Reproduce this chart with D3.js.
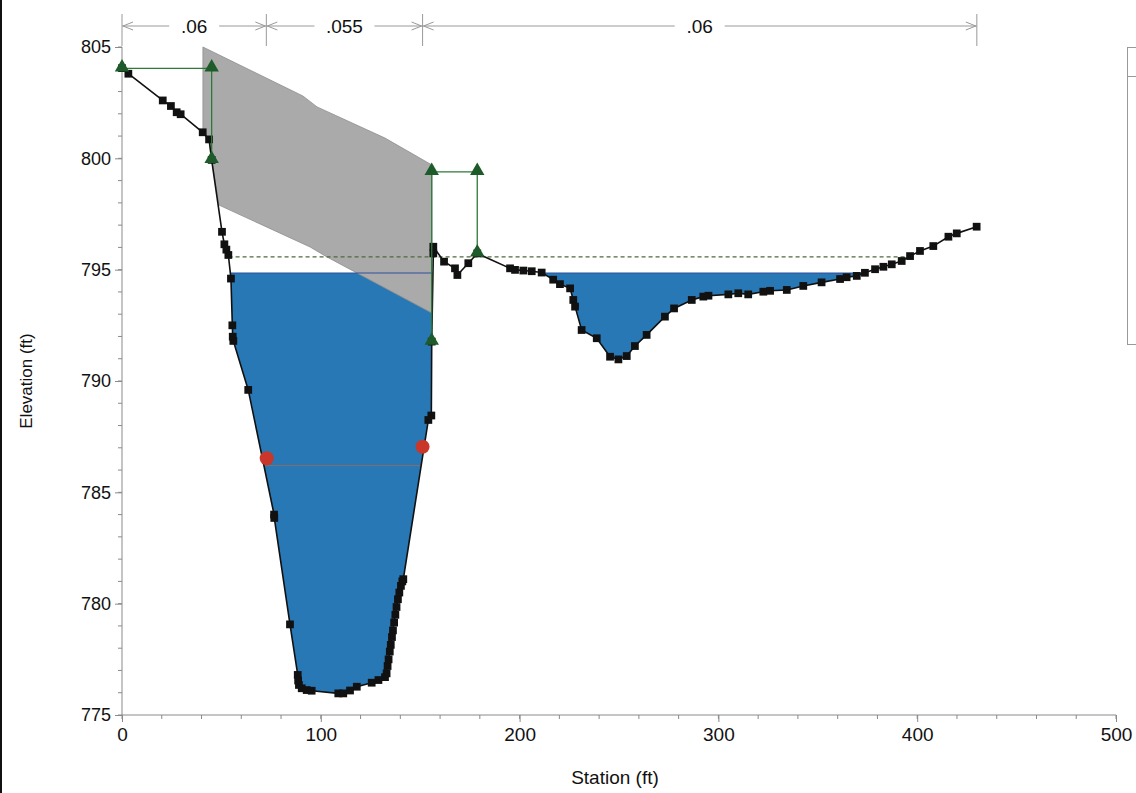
<!DOCTYPE html>
<html>
<head>
<meta charset="utf-8">
<script src="https://cdn.jsdelivr.net/npm/d3@7/dist/d3.min.js"></script>
<style>
  html, body { margin: 0; padding: 0; background: #fff; }
  svg { display: block; font-family: "Liberation Sans", Arial, sans-serif; }
</style>
</head>
<body>
<svg id="chart" width="1136" height="793"></svg>
<script>
// ---------------- DATA ----------------
// ground profile [station ft, elevation ft]
const ground = [
  [0, 804.05], [3.2, 803.8], [20.5, 802.6], [24.6, 802.35], [27.5, 802.07], [29.5, 801.98],
  [40.6, 801.17], [43.8, 800.85], [45.1, 799.93], [50.3, 796.7], [51.5, 796.14], [52.5, 795.9],
  [53.5, 795.66], [54.8, 794.6], [55.5, 792.5], [55.7, 791.99], [56.0, 791.8], [63.5, 789.6],
  [76.5, 784.0], [76.6, 783.85], [84.5, 779.07], [88.4, 776.8], [88.6, 776.55], [89.0, 776.35],
  [90.4, 776.2], [92.9, 776.12], [95.4, 776.09], [108.8, 775.97], [111.3, 775.97], [114.7, 776.1],
  [118.1, 776.27], [125.6, 776.45], [129.0, 776.57], [132.3, 776.7], [133.1, 776.87], [133.6, 777.2],
  [134.1, 777.5], [134.7, 777.85], [135.2, 778.15], [135.8, 778.5], [136.3, 778.8], [136.9, 779.15],
  [137.5, 779.5], [138.1, 779.85], [138.8, 780.2], [139.5, 780.5], [140.3, 780.8], [141.0, 781.0],
  [141.5, 781.1], [154.1, 788.25], [155.6, 788.45], [155.8, 791.77], [156.6, 795.73], [156.6, 796.03],
  [162.0, 795.36], [167.5, 795.06], [168.7, 794.76], [174.2, 795.29], [178.7, 795.73], [195.2, 795.06],
  [197.7, 794.99], [201.9, 794.96], [206.1, 794.93], [211.1, 794.87], [216.9, 794.55], [220.3, 794.35],
  [225.4, 794.16], [227.0, 793.64], [227.9, 793.34], [231.2, 792.29], [238.8, 791.92], [245.5, 791.09],
  [249.7, 790.97], [253.9, 791.12], [258.0, 791.57], [263.9, 792.07], [273.1, 792.89], [277.7, 793.26],
  [286.6, 793.64], [292.4, 793.79], [295.0, 793.83], [305.0, 793.89], [310.0, 793.94], [315.0, 793.89],
  [322.6, 794.01], [326.0, 794.05], [334.4, 794.09], [342.7, 794.27], [351.9, 794.43], [361.2, 794.58],
  [364.5, 794.66], [369.6, 794.72], [373.7, 794.86], [378.8, 795.02], [383.0, 795.13], [387.2, 795.24],
  [392.2, 795.39], [396.4, 795.61], [401.4, 795.84], [408.1, 796.06], [415.7, 796.48], [419.9, 796.63],
  [429.9, 796.93]
];
// bridge deck: high chord (left to right) then low chord (right to left, ending on ground)
const highChord = [[40.7, 805.0], [91.0, 802.8], [98.1, 802.31], [132.3, 800.91], [155.9, 799.7]];
const lowChord = [[155.9, 793.05], [103.1, 795.57], [94.6, 796.02], [48.8, 797.9], [45.1, 799.93], [43.8, 800.85], [40.7, 801.17]];
// water surface and energy grade
const waterSurface = 794.85;
const fillRanges = [[50, 160], [200, 380]];
const energyGrade = 795.57;
// ineffective flow / levee markers (green)
const leftMarker = [[0, 804.04], [45.1, 804.04], [45.1, 799.93]];
const rightMarker = [[155.8, 791.77], [155.8, 799.39], [178.7, 799.39], [178.7, 795.73]];
// bank stations (red dots) and level line between them
const bankPoints = [[72.8, 786.53], [151.2, 787.05]];
const bankLevel = 786.2;
// Manning's n
const nBreaks = [0, 72.6, 151.2, 430.0];
const nLabels = [".06", ".055", ".06"];
// axes
const xTicks = [0, 100, 200, 300, 400, 500];
const yTicks = [775, 780, 785, 790, 795, 800, 805];

// ---------------- SCALES ----------------
const svg = d3.select("#chart");
const x = d3.scaleLinear().domain([0, 500]).range([122, 1116]);
const y = d3.scaleLinear().domain([775, 805]).range([715, 47]);

// scan border at left
svg.append("rect").attr("x", 0).attr("y", 0).attr("width", 2).attr("height", 793).attr("fill", "#111");

// legend box (partially visible)
svg.append("rect").attr("x", 1127.5).attr("y", 47.5).attr("width", 40).attr("height", 297)
  .attr("fill", "none").attr("stroke", "#999");
svg.append("line").attr("x1", 1127.5).attr("x2", 1136).attr("y1", 76.5).attr("y2", 76.5).attr("stroke", "#999");

// ---------------- WATER FILL ----------------
function submerged(range, level) {
  const pts = [];
  for (let i = 0; i < ground.length - 1; i++) {
    const a = ground[i], b = ground[i + 1];
    if (a[0] < range[0] || a[0] > range[1]) continue;
    if (a[1] < level) pts.push(a);
    if ((a[1] - level) * (b[1] - level) < 0) {
      const t = (level - a[1]) / (b[1] - a[1]);
      pts.push([a[0] + t * (b[0] - a[0]), level]);
    }
  }
  return pts;
}
function crossings(level, lo, hi) {
  const out = [];
  for (let i = 0; i < ground.length - 1; i++) {
    const a = ground[i], b = ground[i + 1];
    if (a[0] < lo || b[0] > hi) continue;
    if ((a[1] - level) * (b[1] - level) < 0) {
      const t = (level - a[1]) / (b[1] - a[1]);
      out.push(a[0] + t * (b[0] - a[0]));
    }
  }
  return out;
}
const line = d3.line().x(d => x(d[0])).y(d => y(d[1]));

fillRanges.forEach(r => {
  const pts = submerged(r, waterSurface);
  svg.append("path").attr("d", line(pts) + "Z").attr("fill", "#2878b6").attr("stroke", "none");
});

// ---------------- DECK ----------------
svg.append("path").attr("d", line(highChord.concat(lowChord)) + "Z")
  .attr("fill", "#aaaaaa").attr("stroke", "#8e8e8e").attr("stroke-width", 0.8);

// water surface line
fillRanges.forEach(r => {
  const pts = submerged(r, waterSurface);
  const xs = pts.map(d => d[0]);
  svg.append("line").attr("x1", x(d3.min(xs))).attr("x2", x(d3.max(xs)))
    .attr("y1", y(waterSurface)).attr("y2", y(waterSurface))
    .attr("stroke", "#2f4f9a").attr("stroke-width", 1.2);
});

// energy grade dashed line
const eg = crossings(energyGrade, 0, 430);
svg.append("line").attr("x1", x(eg[0])).attr("x2", x(eg[eg.length - 1]))
  .attr("y1", y(energyGrade)).attr("y2", y(energyGrade))
  .attr("stroke", "#4d6b3c").attr("stroke-width", 1.2).attr("stroke-dasharray", "4,3");

// bank level line
const bl = crossings(bankLevel, 60, 156);
svg.append("line").attr("x1", x(bl[0])).attr("x2", x(bl[bl.length - 1]))
  .attr("y1", y(bankLevel)).attr("y2", y(bankLevel))
  .attr("stroke", "#8a6e68").attr("stroke-width", 1);

// ---------------- AXES ----------------
const axisColor = "#8a8a8a";
const xMinor = d3.range(0, 501, 20);
const yMinor = d3.range(775, 806, 1);
const gx = svg.append("g").attr("transform", `translate(0,${y(775)})`);
gx.append("line").attr("x1", x(0)).attr("x2", x(500)).attr("stroke", axisColor);
gx.selectAll(".mn").data(xMinor).join("line").attr("x1", d => x(d)).attr("x2", d => x(d))
  .attr("y1", 0).attr("y2", 4).attr("stroke", axisColor);
gx.call(d3.axisBottom(x).tickValues(xTicks).tickSize(7).tickSizeOuter(0).tickPadding(6))
  .call(g => g.select(".domain").remove())
  .call(g => g.selectAll("line").attr("stroke", axisColor))
  .call(g => g.selectAll("text").attr("font-size", 19).attr("fill", "#111")
    .attr("font-family", "'Liberation Sans Narrow', 'Liberation Sans', Arial"));

const gy = svg.append("g").attr("transform", `translate(${x(0)},0)`);
gy.append("line").attr("y1", y(775)).attr("y2", y(805)).attr("stroke", axisColor);
gy.selectAll(".mn").data(yMinor).join("line").attr("y1", d => y(d)).attr("y2", d => y(d))
  .attr("x1", 0).attr("x2", -4).attr("stroke", axisColor);
gy.call(d3.axisLeft(y).tickValues(yTicks).tickSize(7).tickSizeOuter(0).tickPadding(4))
  .call(g => g.select(".domain").remove())
  .call(g => g.selectAll("line").attr("stroke", axisColor))
  .call(g => g.selectAll("text").attr("font-size", 18).attr("fill", "#111"));

svg.append("text").attr("x", 615).attr("y", 784).attr("text-anchor", "middle")
  .attr("font-size", 19).attr("fill", "#111")
  .attr("font-family", "'Liberation Sans Narrow', 'Liberation Sans', Arial")
  .text("Station (ft)");
svg.append("text").attr("transform", `translate(32,${y(790)}) rotate(-90)`)
  .attr("text-anchor", "middle").attr("font-size", 17).attr("fill", "#111")
  .text("Elevation (ft)");

// ---------------- MANNING n ANNOTATION ----------------
const nY = 26;
const gn = svg.append("g");
nBreaks.forEach(s => {
  gn.append("line").attr("x1", x(s)).attr("x2", x(s)).attr("y1", 14).attr("y2", 46)
    .attr("stroke", "#999").attr("stroke-width", 1);
});
nLabels.forEach((lab, i) => {
  const x0 = x(nBreaks[i]), x1 = x(nBreaks[i + 1]), xm = (x0 + x1) / 2;
  const half = lab.length * 5 + 10;
  gn.append("line").attr("x1", x0).attr("x2", xm - half).attr("y1", nY).attr("y2", nY).attr("stroke", "#999");
  gn.append("line").attr("x1", xm + half).attr("x2", x1).attr("y1", nY).attr("y2", nY).attr("stroke", "#999");
  gn.append("path").attr("d", `M${x0 + 11},${nY - 4}L${x0 + 1},${nY}L${x0 + 11},${nY + 4}`)
    .attr("fill", "none").attr("stroke", "#999");
  gn.append("path").attr("d", `M${x1 - 11},${nY - 4}L${x1 - 1},${nY}L${x1 - 11},${nY + 4}`)
    .attr("fill", "none").attr("stroke", "#999");
  gn.append("text").attr("x", xm).attr("y", nY + 7).attr("text-anchor", "middle")
    .attr("font-size", 19).attr("fill", "#111").text(lab);
});

// ---------------- GROUND ----------------
svg.append("path").attr("d", line(ground)).attr("fill", "none").attr("stroke", "#111").attr("stroke-width", 1.6);
svg.append("g").selectAll("path").data(ground).join("path")
  .attr("transform", d => `translate(${x(d[0])},${y(d[1])})`)
  .attr("d", d3.symbol(d3.symbolSquare, 60)).attr("fill", "#111");

// green markers
[leftMarker, rightMarker].forEach(m => {
  svg.append("path").attr("d", line(m)).attr("fill", "none").attr("stroke", "#2e7a3a").attr("stroke-width", 1.3);
});
const tri = [leftMarker[0], leftMarker[1], leftMarker[2], rightMarker[0], rightMarker[1], rightMarker[2], rightMarker[3]];
svg.append("g").selectAll("path").data(tri).join("path")
  .attr("transform", d => `translate(${x(d[0])},${y(d[1]) - 1})`)
  .attr("d", d3.symbol(d3.symbolTriangle, 90)).attr("fill", "#1d5c2a");

// bank points
svg.append("g").selectAll("circle").data(bankPoints).join("circle")
  .attr("cx", d => x(d[0])).attr("cy", d => y(d[1])).attr("r", 7).attr("fill", "#c8372a");
</script>
</body>
</html>
